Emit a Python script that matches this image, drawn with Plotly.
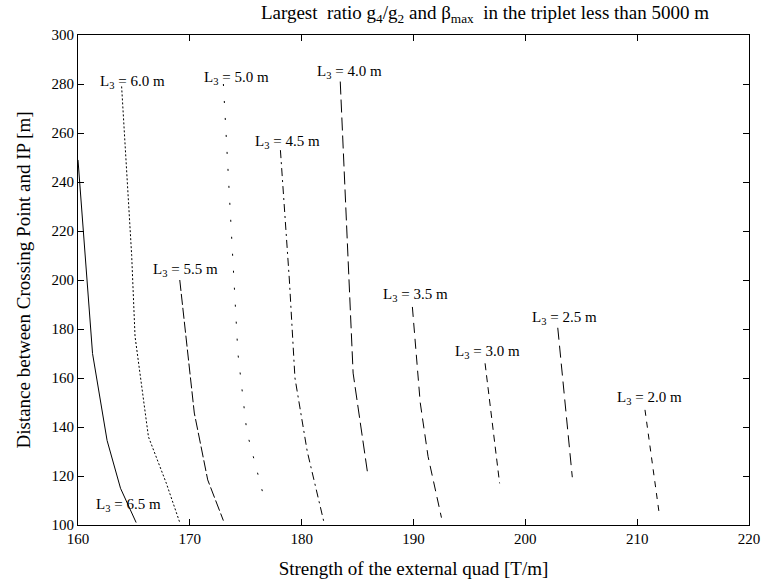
import plotly.graph_objects as go

# Quadrupole length L3 for each curve
lengths = ["6.5", "6.0", "5.5", "5.0", "4.5", "4.0", "3.5", "3.0", "2.5", "2.0"]

# Gradient of the external quad [T/m] along each curve
grad = {
    "6.5": [160.0, 161.3, 162.6, 163.8, 165.2],
    "6.0": [163.9, 164.8, 165.1, 166.3, 167.9, 169.1],
    "5.5": [169.1, 170.4, 171.6, 173.0],
    "5.0": [173.0, 173.9, 174.3, 175.1, 176.7],
    "4.5": [178.1, 178.9, 179.4, 180.5, 182.0],
    "4.0": [183.45, 184.1, 184.6, 185.9],
    "3.5": [189.9, 190.6, 191.3, 192.5],
    "3.0": [196.4, 197.7],
    "2.5": [202.9, 204.2],
    "2.0": [210.7, 212.0],
}

# Distance between crossing point and IP [m]
dist = {
    "6.5": [249, 170, 134.5, 115, 101],
    "6.0": [279, 210, 177, 136, 117, 101],
    "5.5": [200, 145.7, 118.4, 101.8],
    "5.0": [280, 200, 170, 138, 110],
    "4.5": [253, 200, 160, 130, 101],
    "4.0": [281, 212, 162, 121],
    "3.5": [189, 150, 128, 103],
    "3.0": [166, 117],
    "2.5": [180.5, 119.5],
    "2.0": [147, 103.7],
}

# Label anchor points (x, y) in data units
label_x = [164.5, 164.9, 169.6, 174.2, 178.7, 184.3, 190.2, 196.6, 203.5, 211.1]
label_y = [108.2, 280.8, 203.9, 282.4, 256.2, 284.9, 193.7, 170.8, 184.3, 151.9]

dashes = {
    "6.5": "solid",
    "6.0": "2px,2px",
    "5.5": "11px,3px",
    "5.0": "2px,15px",
    "4.5": "8px,4px,2px,4px",
    "4.0": "13px,5px",
    "3.5": "10px,6px",
    "3.0": "7px,5px",
    "2.5": "12px,6px",
    "2.0": "6px,6px",
}

serif = "Liberation Serif"

fig = go.Figure()
for L in lengths:
    fig.add_trace(go.Scatter(
        x=grad[L], y=dist[L], mode="lines",
        line=dict(color="black", width=1, dash=dashes[L]),
        showlegend=False, hoverinfo="skip",
    ))

for L, lx, ly in zip(lengths, label_x, label_y):
    fig.add_annotation(
        x=lx, y=ly, text=f"L<sub>3</sub> = {L} m", showarrow=False,
        font=dict(family=serif, size=15, color="black"),
        xanchor="center", yanchor="middle", bgcolor="rgba(0,0,0,0)",
    )

axis_common = dict(
    showgrid=False, zeroline=False, showline=True, linecolor="black", linewidth=1,
    mirror="ticks", ticks="inside", ticklen=6, tickcolor="black", tickwidth=1,
    tickfont=dict(family=serif, size=15, color="black"), automargin=False,
)

fig.update_layout(
    width=763, height=585,
    margin=dict(l=78, r=14, t=35, b=60),
    paper_bgcolor="white", plot_bgcolor="white",
    font=dict(family=serif, color="black"),
    title=dict(
        text="Largest  ratio g<sub>4</sub>/g<sub>2</sub> and β<sub>max</sub>  in the triplet less than 5000 m",
        x=485 / 763, xanchor="center", y=1 - 12 / 585, yanchor="middle",
        font=dict(family=serif, size=19, color="black"),
    ),
    xaxis=dict(
        range=[160, 220], dtick=10, **axis_common,
        title=dict(text="Strength of the external quad [T/m]",
                   font=dict(family=serif, size=19, color="black")),
    ),
    yaxis=dict(
        range=[100, 300], dtick=20, **axis_common,
        title=dict(text="Distance between Crossing Point and IP [m]",
                   font=dict(family=serif, size=19, color="black")),
    ),
)

fig.write_html("out.html")
